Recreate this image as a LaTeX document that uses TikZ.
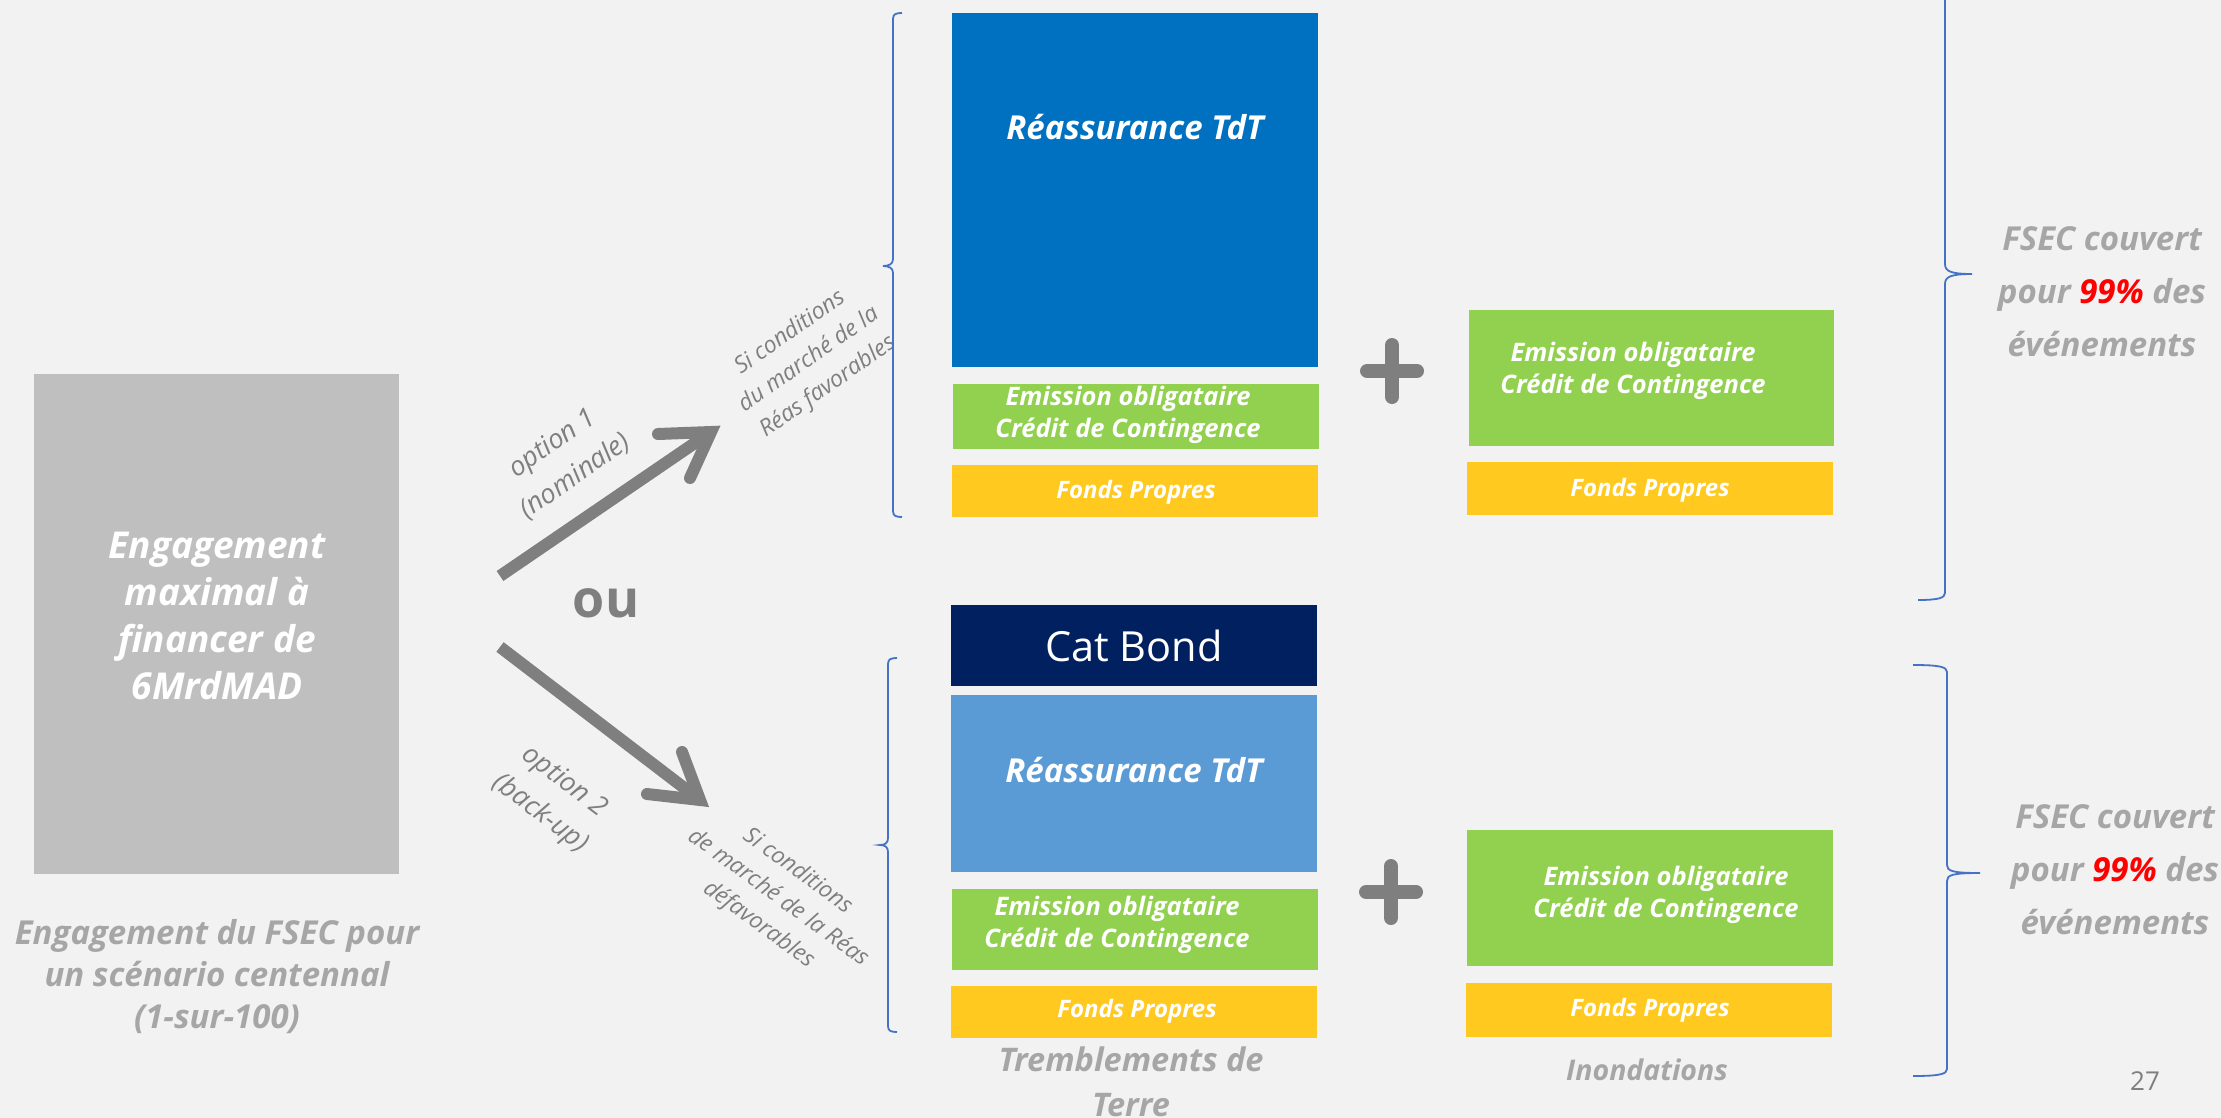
\documentclass[tikz,border=0pt]{standalone}
\usepackage{fontspec}
\setmainfont{Open Sans}
\usetikzlibrary{calc}
\definecolor{bgc}{HTML}{F2F2F2}
\definecolor{boxgray}{HTML}{BFBFBF}
\definecolor{reablue}{HTML}{0070C0}
\definecolor{lightblue}{HTML}{5B9BD5}
\definecolor{navyc}{HTML}{002060}
\definecolor{leaf}{HTML}{92D050}
\definecolor{gold}{HTML}{FFC920}
\definecolor{capgray}{HTML}{A6A6A6}
\definecolor{darkg}{HTML}{7F7F7F}
\definecolor{bracec}{HTML}{4472C4}
\begin{document}
\begin{tikzpicture}[x=1pt,y=-1pt,
  blk/.style={rectangle, inner sep=0pt, outer sep=0pt, draw=none, minimum width=366pt},
  wt/.style={text=white, align=center, inner sep=0pt},
  captxt/.style={text=capgray, align=center, inner sep=0pt},
  rottxt/.style={text=darkg, align=center, inner sep=0pt},
  shaft/.style={draw=darkg, line width=12pt, line cap=butt},
  barb/.style={draw=darkg, line width=12pt, line cap=round, line join=miter},
  plusbar/.style={draw=darkg, line width=14pt, line cap=round},
  bracel/.style={draw=bracec, line width=1.8pt},
  fbig/.style={font=\fontsize{37pt}{47pt}\selectfont\bfseries\itshape},
  freas/.style={font=\fontsize{33pt}{38pt}\selectfont\bfseries\itshape},
  fgreen/.style={font=\fontsize{25.5pt}{32pt}\selectfont\bfseries\itshape},
  ffonds/.style={font=\fontsize{24pt}{28pt}\selectfont\bfseries\itshape},
  fcap/.style={font=\fontsize{33pt}{42pt}\selectfont\bfseries\itshape},
  ffsec/.style={font=\fontsize{33pt}{53pt}\selectfont\bfseries\itshape},
  fopt/.style={font=\fontsize{27pt}{40pt}\selectfont\itshape},
  fcond/.style={font=\fontsize{23pt}{33pt}\selectfont\itshape}]

\fill[bgc] (0,0) rectangle (2221,1118);
\useasboundingbox (0,0) rectangle (2221,1118);

% left box
\node[blk, fill=boxgray, minimum width=365pt, minimum height=500pt] (eng) at (216.5,624) {};
\node[wt, fbig] (engt) at (217,616) {Engagement\\maximal à\\financer de\\6MrdMAD};
\node[captxt, fcap] (engcap) at (217,977) {Engagement du FSEC pour\\un scénario centennal\\(1-sur-100)};

% ou
\node[text=darkg, font=\fontsize{52pt}{60pt}\selectfont\bfseries, inner sep=0pt] (ou) at (606,603) {ou};

% arrows
\coordinate (a1s) at (500,576);
\coordinate (a1t) at (711,432);
\coordinate (a1l) at (658,434);
\coordinate (a1r) at (690,478);
\draw[shaft] (a1s) -- (a1t);
\draw[barb] (a1l) -- (a1t) -- (a1r);

\coordinate (a2s) at (500,647);
\coordinate (a2t) at (700,800);
\coordinate (a2l) at (647,794);
\coordinate (a2r) at (682,752);
\draw[shaft] (a2s) -- (a2t);
\draw[barb] (a2l) -- (a2t) -- (a2r);

% rotated labels
\node[rottxt, fopt, rotate=35] (opt1) at (564,460) {option 1\\(nominale)};
\node[rottxt, fcond, rotate=35] (cond1) at (809,360) {Si conditions\\du marché de la\\Réas favorables};
\node[rottxt, fopt, rotate=-37] (opt2) at (552,798) {option 2\\(back-up)};
\node[rottxt, fcond, rotate=-36] (cond2) at (778,898) {Si conditions\\de marché de la Réas\\défavorables};

% left brackets
\draw[bracel] (902,13) .. controls (896,13) and (893,14) .. (893,19) -- (893,259)
  .. controls (893,264) and (889,266) .. (883,266)
  .. controls (889,266) and (893,268) .. (893,273) -- (893,511)
  .. controls (893,516) and (896,517) .. (902,517);
\draw[bracel] (897,658) .. controls (891,658) and (888,659) .. (888,664) -- (888,838)
  .. controls (888,843) and (885,845) .. (880,845)
  .. controls (885,845) and (888,847) .. (888,852) -- (888,1026)
  .. controls (888,1031) and (891,1032) .. (897,1032);

% top option blocks
\node[blk, fill=reablue, minimum height=354pt] (b1) at (1135,190) {};
\node[wt, freas] (b1t) at (1135,127) {Réassurance TdT};
\node[blk, fill=leaf, minimum height=65pt] (g1) at (1136,416.5) {};
\node[wt, fgreen] (g1t) at (1128,415) {Emission obligataire\\Crédit de Contingence};
\node[blk, fill=gold, minimum height=52pt] (y1) at (1135,491) {};
\node[wt, ffonds] (y1t) at (1136,492) {Fonds Propres};

\coordinate (p1) at (1392,371);
\draw[plusbar] ($(p1)+(-25,0)$) -- ($(p1)+(25,0)$);
\draw[plusbar] ($(p1)+(0,-26)$) -- ($(p1)+(0,26)$);

\node[blk, fill=leaf, minimum width=365pt, minimum height=136pt] (g2) at (1651.5,378) {};
\node[wt, fgreen] (g2t) at (1633,371) {Emission obligataire\\Crédit de Contingence};
\node[blk, fill=gold, minimum height=53pt] (y2) at (1650,488.5) {};
\node[wt, ffonds] (y2t) at (1650,490) {Fonds Propres};

% bottom option blocks
\node[blk, fill=navyc, minimum height=81pt] (cb) at (1134,645.5) {};
\node[wt, font=\fontsize{41.5pt}{48pt}\selectfont] (cbt) at (1134,646) {Cat Bond};
\node[blk, fill=lightblue, minimum height=177pt] (b2) at (1134,783.5) {};
\node[wt, freas] (b2t) at (1134,770) {Réassurance TdT};
\node[blk, fill=leaf, minimum height=81pt] (g3) at (1135,929.5) {};
\node[wt, fgreen] (g3t) at (1117,925) {Emission obligataire\\Crédit de Contingence};
\node[blk, fill=gold, minimum height=52pt] (y3) at (1134,1012) {};
\node[wt, ffonds] (y3t) at (1137,1011) {Fonds Propres};
\node[captxt, font=\fontsize{32.5pt}{45pt}\selectfont\bfseries\itshape] (tdt) at (1131,1082) {Tremblements de\\Terre};

\coordinate (p2) at (1391,892);
\draw[plusbar] ($(p2)+(-25,0)$) -- ($(p2)+(25,0)$);
\draw[plusbar] ($(p2)+(0,-26)$) -- ($(p2)+(0,26)$);

\node[blk, fill=leaf, minimum height=136pt] (g4) at (1650,898) {};
\node[wt, fgreen] (g4t) at (1666,895) {Emission obligataire\\Crédit de Contingence};
\node[blk, fill=gold, minimum height=54pt] (y4) at (1649,1010) {};
\node[wt, ffonds] (y4t) at (1650,1010) {Fonds Propres};
\node[captxt, font=\fontsize{28.5pt}{32pt}\selectfont\bfseries\itshape] (inond) at (1647,1070) {Inondations};

% right braces
\draw[bracel] (1945,-60) -- (1945,264)
  .. controls (1945,271) and (1950,274) .. (1972,274)
  .. controls (1950,274) and (1945,277) .. (1945,284) -- (1945,593)
  .. controls (1945,598) and (1938,600) .. (1918,600);
\draw[bracel] (1913,665) .. controls (1940,665) and (1947,667) .. (1947,672) -- (1947,865)
  .. controls (1947,871) and (1952,873) .. (1980,873)
  .. controls (1952,873) and (1947,875) .. (1947,881) -- (1947,1069)
  .. controls (1947,1074) and (1940,1076) .. (1913,1076);

\node[captxt, ffsec] (fsec1) at (2102,292) {FSEC couvert\\pour \textcolor{red}{99\%} des\\événements};
\node[captxt, ffsec] (fsec2) at (2115,870) {FSEC couvert\\pour \textcolor{red}{99\%} des\\événements};

\node[text=darkg, font=\fontsize{26pt}{30pt}\selectfont, inner sep=0pt] (pg) at (2145,1081) {27};
\end{tikzpicture}
\end{document}
